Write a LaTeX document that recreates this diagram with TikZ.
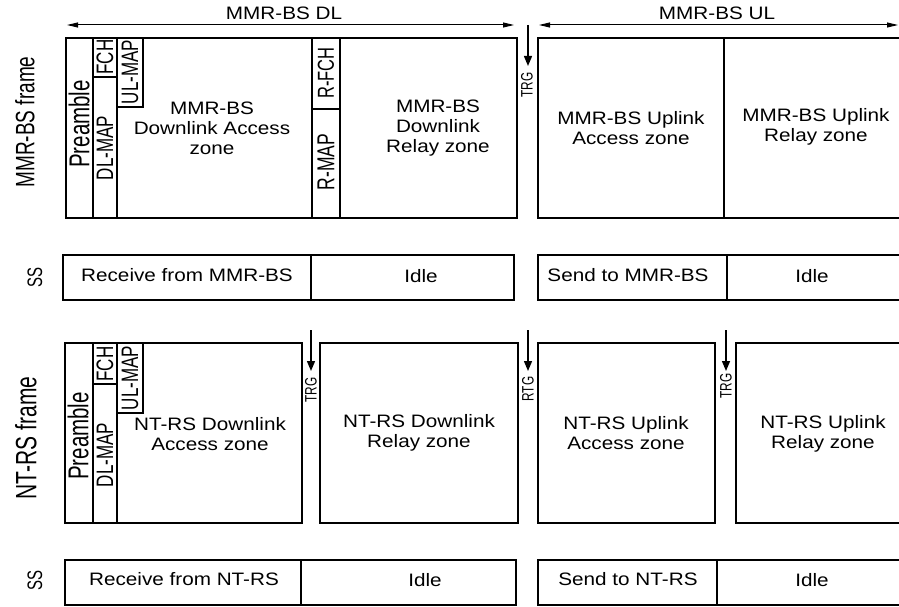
\documentclass[tikz,border=0pt]{standalone}
\usepackage{graphicx}
\usepackage{fontspec}
\setmainfont{Liberation Sans}[FakeStretch=1.15]
\newfontfamily\plainfont{Liberation Sans}
\usetikzlibrary{fit,arrows.meta}
\newcommand\fz{\fontsize{18}{20}\selectfont}
% rotated text: size along the text, stretched across by 1.4
\newcommand\vt[2]{\rotatebox{90}{\scalebox{1}[1.4]{\plainfont\fontsize{#1}{#1}\selectfont #2}}}
\newcommand\bx[5]{\node[bx, fit={(#2,#3) (#4,#5)}] (#1) {};}
\tikzset{
  bx/.style={draw, line width=1.4pt, inner sep=0pt, rectangle},
  lbl/.style={font=\fz, align=center, inner sep=0pt},
  vlbl/.style={inner sep=0pt},
  span/.style={line width=1pt, {Triangle[length=11pt,width=5pt]}-{Triangle[length=11pt,width=5pt]}},
  gaparrow/.style={line width=1.4pt, -{Triangle[length=10pt,width=8pt]}}
}
\begin{document}
\begin{tikzpicture}[x=1pt,y=-1pt]
\useasboundingbox (0,0) rectangle (899,607);
% ---------- MMR-BS frame ----------
\bx{bsacc}{117}{38}{312}{218}
\bx{bspre}{66}{38}{93}{218}
\bx{bsfch}{93}{38}{117}{77}
\bx{bsdlmap}{93}{77}{117}{218}
\bx{bsulmap}{117}{38}{143}{107}
\bx{bsrfch}{312}{38}{340}{109}
\bx{bsrmap}{312}{109}{340}{218}
\bx{bsrelay}{340}{38}{517}{218}
\bx{bsulacc}{538}{38}{724}{218}
\bx{bsulrel}{724}{38}{912}{218}
\node[vlbl] (tpre) at (79,124) {\vt{20.5}{Preamble}};
\node[vlbl] (tfch) at (105,57) {\vt{17}{FCH}};
\node[vlbl] (tdl) at (105,148) {\vt{17}{DL-MAP}};
\node[vlbl] (tul) at (130,72) {\vt{17}{UL-MAP}};
\node[vlbl] (trfch) at (326,73) {\vt{16.5}{R-FCH}};
\node[vlbl] (trmap) at (326,162) {\vt{17.5}{R-MAP}};
\node[lbl] (tbsacc) at (212,128) {MMR-BS\\Downlink Access\\zone};
\node[lbl] (tbsrel) at (438,128) {MMR-BS\\Downlink\\Relay zone};
\node[lbl] (tbsula) at (631,128) {MMR-BS Uplink\\Access zone};
\node[lbl] (tbsulr) at (816,127) {MMR-BS Uplink\\Relay zone};
% span arrows
\coordinate (dlL) at (67,25);
\coordinate (dlR) at (514,25);
\coordinate (ulL) at (539,25);
\coordinate (ulR) at (898,25);
\draw[span] (dlL) -- (dlR);
\draw[span] (ulL) -- (ulR);
\node[lbl] (tdlspan) at (284,13) {MMR-BS DL};
\node[lbl] (tulspan) at (717,13) {MMR-BS UL};
\coordinate (g1a) at (528,25);
\coordinate (g1b) at (528,66);
\draw[gaparrow] (g1a) -- (g1b);
\node[vlbl] (tg1) at (527,85) {\vt{11.8}{TRG}};
\node[vlbl] (tbsframe) at (25,122) {\vt{19}{MMR-BS frame}};
% ---------- SS row 1 ----------
\bx{ss1a}{63}{255}{311}{300}
\bx{ss1b}{311}{255}{514}{300}
\bx{ss1c}{538}{255}{727}{300}
\bx{ss1d}{727}{255}{912}{300}
\node[lbl] (tr1) at (187,275) {Receive from MMR-BS};
\node[lbl] (ti1) at (421,276) {Idle};
\node[lbl] (ts1) at (628,275) {Send to MMR-BS};
\node[lbl] (ti2) at (812,276) {Idle};
\node[vlbl] (tss1) at (35,277) {\vt{15}{SS}};
% ---------- NT-RS frame ----------
\bx{ntacc}{117}{343}{302}{523}
\bx{ntpre}{65}{343}{93}{523}
\bx{ntfch}{93}{343}{117}{384}
\bx{ntdlmap}{93}{384}{117}{523}
\bx{ntulmap}{117}{343}{143}{413}
\bx{ntrel}{320}{343}{518}{523}
\bx{ntula}{538}{343}{715}{523}
\bx{ntulr}{736}{343}{912}{523}
\node[vlbl] (npre) at (78,436) {\vt{20.5}{Preamble}};
\node[vlbl] (nfch) at (105,364) {\vt{17}{FCH}};
\node[vlbl] (ndl) at (105,455) {\vt{17}{DL-MAP}};
\node[vlbl] (nul) at (130,378) {\vt{17}{UL-MAP}};
\node[lbl] (tntacc) at (210,434) {NT-RS Downlink\\Access zone};
\node[lbl] (tntrel) at (419,433) {NT-RS Downlink\\Relay zone};
\node[lbl] (tntula) at (626,433) {NT-RS Uplink\\Access zone};
\node[lbl] (tntulr) at (823,434) {NT-RS Uplink\\Relay zone};
\coordinate (g2a) at (311,330);
\coordinate (g2b) at (311,371);
\coordinate (g3a) at (528,330);
\coordinate (g3b) at (528,371);
\coordinate (g4a) at (726,330);
\coordinate (g4b) at (726,371);
\draw[gaparrow] (g2a) -- (g2b);
\draw[gaparrow] (g3a) -- (g3b);
\draw[gaparrow] (g4a) -- (g4b);
\node[vlbl] (tg2) at (311,390) {\vt{11.8}{TRG}};
\node[vlbl] (tg3) at (528,389) {\vt{11.8}{RTG}};
\node[vlbl] (tg4) at (726,386) {\vt{11.8}{TRG}};
\node[vlbl] (tntframe) at (26,438) {\vt{21}{NT-RS frame}};
% ---------- SS row 2 ----------
\bx{ss2a}{65}{560}{301}{605}
\bx{ss2b}{301}{560}{516}{605}
\bx{ss2c}{538}{560}{717}{605}
\bx{ss2d}{717}{560}{912}{605}
\node[lbl] (tr2) at (184,579) {Receive from NT-RS};
\node[lbl] (ti3) at (425,580) {Idle};
\node[lbl] (ts2) at (628,579) {Send to NT-RS};
\node[lbl] (ti4) at (812,580) {Idle};
\node[vlbl] (tss2) at (35,580) {\vt{15}{SS}};
\end{tikzpicture}
\end{document}
